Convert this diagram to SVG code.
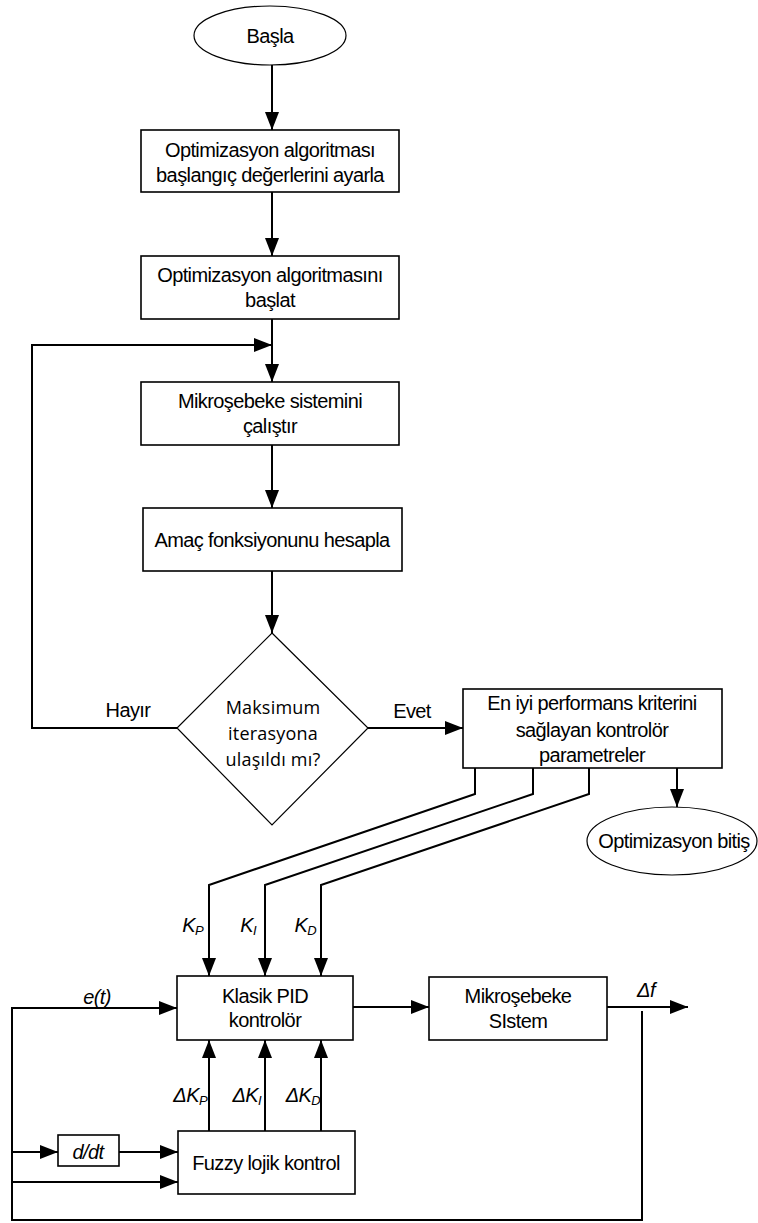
<svg xmlns="http://www.w3.org/2000/svg" width="758" height="1223" viewBox="0 0 758 1223">
<defs>
<marker id="ah" markerUnits="userSpaceOnUse" markerWidth="18" markerHeight="14" refX="18" refY="7" orient="auto">
<path d="M0,0 L18,7 L0,14 z" fill="#000"/>
</marker>
<style>
.box{fill:#fff;stroke:#000;stroke-width:1.6}
.thin{fill:#fff;stroke:#000;stroke-width:1.2}
.t{font-family:"Liberation Sans",Arial,sans-serif;font-size:20px;letter-spacing:-0.6px;fill:#000;text-anchor:middle}
.d{font-family:"Open Sans","Noto Sans",sans-serif;font-size:18px;fill:#000;text-anchor:middle;letter-spacing:0.2px}
.i{font-family:"Liberation Sans",Arial,sans-serif;font-size:20px;letter-spacing:-0.6px;font-style:italic;fill:#000}
.c{fill:none;stroke:#000;stroke-width:2}
.ca{fill:none;stroke:#000;stroke-width:2;marker-end:url(#ah)}
</style>
</defs>
<rect width="758" height="1223" fill="#fff"/>

<g id="connectors">
<path class="ca" d="M272,65 V130"/>
<path class="ca" d="M272,192 V256"/>
<path class="ca" d="M272,319 V382"/>
<path class="ca" d="M177,728 H32 V345 H272"/>
<path class="ca" d="M272,445 V508"/>
<path class="ca" d="M272,571 V633"/>
<path class="ca" d="M368,728 H463"/>
<path class="ca" d="M677,768 V807"/>
<path class="ca" d="M475,768 V794 L209,885 V976"/>
<path class="ca" d="M533,768 V794 L265,885 V976"/>
<path class="ca" d="M589,768 V794 L321,885 V976"/>
<path class="ca" d="M209,1131 V1040"/>
<path class="ca" d="M265,1131 V1040"/>
<path class="ca" d="M321,1131 V1040"/>
<path class="ca" d="M353,1007 H429"/>
<path class="ca" d="M607,1007 H688"/>
<path class="ca" d="M642,1011 V1220 H12 V1008 H177"/>
<path class="ca" d="M12,1152 H58"/>
<path class="ca" d="M119,1152 H178"/>
<path class="ca" d="M12,1182 H178"/>
<text class="t" x="128" y="717">Hayır</text>
<text class="t" x="412" y="718">Evet</text>
<text class="i" x="203" y="932" text-anchor="end">K<tspan font-size="13" dy="3">P</tspan></text>
<text class="i" x="256" y="932" text-anchor="end">K<tspan font-size="13" dy="3">I</tspan></text>
<text class="i" x="316" y="932" text-anchor="end">K<tspan font-size="13" dy="3">D</tspan></text>
<text class="i" x="207" y="1102" text-anchor="end">ΔK<tspan font-size="13" dy="3">P</tspan></text>
<text class="i" x="261" y="1102" text-anchor="end">ΔK<tspan font-size="13" dy="3">I</tspan></text>
<text class="i" x="320" y="1102" text-anchor="end">ΔK<tspan font-size="13" dy="3">D</tspan></text>
<text class="i" x="97" y="1004" text-anchor="middle">e(t)</text>
<text class="i" x="646" y="997" text-anchor="middle">Δf</text>
</g>

<g id="start">
<ellipse class="thin" cx="270" cy="35.5" rx="76" ry="29.5"/>
<text class="t" x="270" y="43">Başla</text>
</g>

<g id="init">
<rect class="box" x="141" y="130" width="258" height="62"/>
<text class="t" x="270" y="157">Optimizasyon algoritması</text>
<text class="t" x="270" y="182">başlangıç değerlerini ayarla</text>
</g>

<g id="startalg">
<rect class="box" x="141" y="256" width="258" height="63"/>
<text class="t" x="270" y="282">Optimizasyon algoritmasını</text>
<text class="t" x="270" y="307">başlat</text>
</g>

<g id="runsys">
<rect class="box" x="141" y="382" width="258" height="63"/>
<text class="t" x="270" y="408">Mikroşebeke sistemini</text>
<text class="t" x="270" y="433">çalıştır</text>
</g>

<g id="objective">
<rect class="box" x="143" y="508" width="259" height="63"/>
<text class="t" x="272" y="547">Amaç fonksiyonunu hesapla</text>
</g>

<g id="decision">
<polygon class="thin" points="272,633 368,728 272,825 177,728"/>
<text class="d" x="273" y="714">Maksimum</text>
<text class="d" x="273" y="740">iterasyona</text>
<text class="d" x="273" y="766">ulaşıldı mı?</text>
</g>

<g id="best">
<rect class="box" x="463" y="689" width="259" height="79"/>
<text class="t" x="592" y="710">En iyi performans kriterini</text>
<text class="t" x="592" y="737">sağlayan kontrolör</text>
<text class="t" x="592" y="762">parametreler</text>
</g>

<g id="end">
<ellipse class="thin" cx="672" cy="841" rx="85" ry="34"/>
<text class="t" x="674" y="848">Optimizasyon bitiş</text>
</g>

<g id="pid">
<rect class="box" x="177" y="976" width="176" height="64"/>
<text class="t" x="265" y="1003">Klasik PID</text>
<text class="t" x="265" y="1027">kontrolör</text>
</g>

<g id="micro">
<rect class="box" x="429" y="977" width="178" height="63"/>
<text class="t" x="518" y="1003">Mikroşebeke</text>
<text class="t" x="518" y="1028">SIstem</text>
</g>

<g id="ddt">
<rect class="box" x="58" y="1135" width="61" height="31"/>
<text class="i" x="88" y="1159" text-anchor="middle">d/dt</text>
</g>

<g id="fuzzy">
<rect class="box" x="178" y="1131" width="177" height="63"/>
<text class="t" x="266" y="1170">Fuzzy lojik kontrol</text>
</g>
</svg>
